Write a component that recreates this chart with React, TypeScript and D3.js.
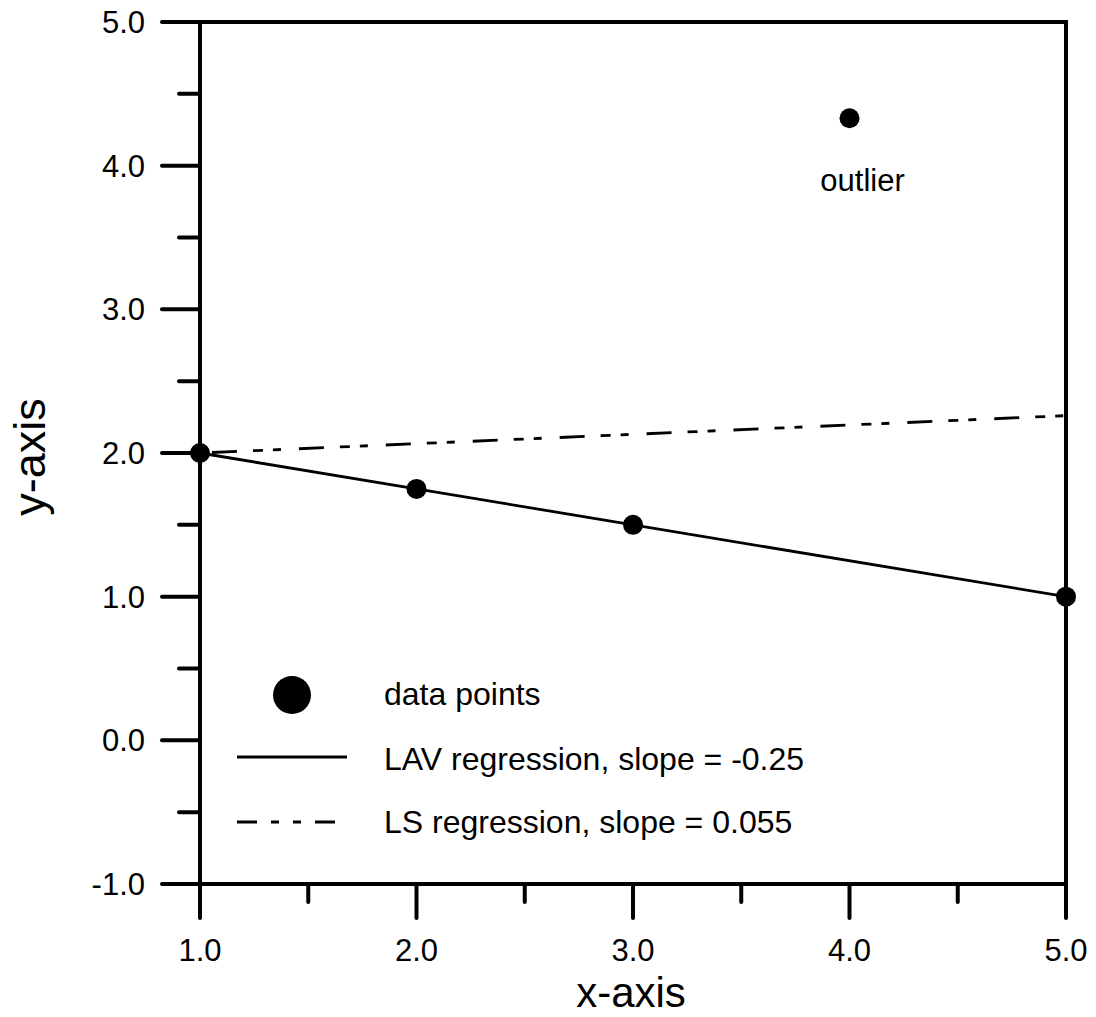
import React from "react";
import * as d3 from "d3";

const pointsX = [1, 2, 3, 4, 5];
const pointsY = [2.0, 1.75, 1.5, 4.33, 1.0];
const lavLineX = [1, 5];
const lavLineY = [2.0, 1.0];
const lsLineX = [1, 5];
const lsLineY = [2.0, 2.26];
const xMajorTicks = [1, 2, 3, 4, 5];
const xMinorTicks = [1.5, 2.5, 3.5, 4.5];
const yMajorTicks = [-1, 0, 1, 2, 3, 4, 5];
const yMinorTicks = [-0.5, 0.5, 1.5, 2.5, 3.5, 4.5];
const legendLabels = ["data points", "LAV regression, slope = -0.25", "LS regression, slope = 0.055"];
const outlierLabel = "outlier";

const W = 1096;
const H = 1017;
const FONT = "'Liberation Sans', Arial, Helvetica, sans-serif";

export default function App() {
  const x = d3.scaleLinear().domain([1, 5]).range([200, 1066]);
  const y = d3.scaleLinear().domain([-1, 5]).range([884, 22]);
  const line = d3
    .line<[number, number]>()
    .x((d) => x(d[0]))
    .y((d) => y(d[1]));
  const lav = line(lavLineX.map((v, i) => [v, lavLineY[i]] as [number, number]));
  const ls = line(lsLineX.map((v, i) => [v, lsLineY[i]] as [number, number]));
  const fmt = (v: number) => v.toFixed(1);
  const axisW = 4;

  return (
    <svg
      width={W}
      height={H}
      style={{ position: "absolute", left: 0, top: 0, background: "#fff" }}
      fontFamily={FONT}
    >
      <rect x={0} y={0} width={W} height={H} fill="#fff" />
      {/* regression lines */}
      <path d={lav ?? ""} stroke="#000" strokeWidth={2.8} fill="none" />
      <path
        d={ls ?? ""}
        stroke="#000"
        strokeWidth={2.8}
        fill="none"
        strokeDasharray="25 16 10 10 8 18"
        strokeDashoffset={-12}
      />
      {/* frame */}
      <line x1={x(1)} x2={x(1)} y1={y(5)} y2={y(-1)} stroke="#000" strokeWidth={axisW} />
      <line x1={x(5)} x2={x(5)} y1={y(5)} y2={y(-1)} stroke="#000" strokeWidth={axisW} />
      <line x1={x(1)} x2={x(5) + 2} y1={y(5)} y2={y(5)} stroke="#000" strokeWidth={axisW} />
      <line x1={x(1)} x2={x(5) + 2} y1={y(-1)} y2={y(-1)} stroke="#000" strokeWidth={axisW} />
      {/* y ticks */}
      {yMajorTicks.map((t) => (
        <g key={"ym" + t}>
          <line x1={x(1) - 38} x2={x(1)} y1={y(t)} y2={y(t)} stroke="#000" strokeWidth={axisW} strokeLinecap="round" />
          <text x={145} y={y(t)} dy="0.36em" textAnchor="end" fontSize={31}>
            {fmt(t)}
          </text>
        </g>
      ))}
      {yMinorTicks.map((t) => (
        <line key={"yn" + t} x1={x(1) - 21} x2={x(1)} y1={y(t)} y2={y(t)} stroke="#000" strokeWidth={axisW} strokeLinecap="round" />
      ))}
      {/* x ticks */}
      {xMajorTicks.map((t) => (
        <g key={"xm" + t}>
          <line x1={x(t)} x2={x(t)} y1={y(-1)} y2={y(-1) + 34} stroke="#000" strokeWidth={axisW} strokeLinecap="round" />
          <text x={x(t)} y={961} textAnchor="middle" fontSize={31}>
            {fmt(t)}
          </text>
        </g>
      ))}
      {xMinorTicks.map((t) => (
        <line key={"xn" + t} x1={x(t)} x2={x(t)} y1={y(-1)} y2={y(-1) + 18} stroke="#000" strokeWidth={axisW} strokeLinecap="round" />
      ))}
      {/* data points */}
      {pointsX.map((v, i) => (
        <circle key={"p" + i} cx={x(v)} cy={y(pointsY[i])} r={10} fill="#000" />
      ))}
      <text x={x(4) + 13} y={191} textAnchor="middle" fontSize={31}>
        {outlierLabel}
      </text>
      {/* legend */}
      <circle cx={292} cy={695} r={19} fill="#000" />
      <text x={384} y={705} fontSize={32}>
        {legendLabels[0]}
      </text>
      <line x1={237} x2={347} y1={757} y2={757} stroke="#000" strokeWidth={2.8} />
      <text x={384} y={770} fontSize={32}>
        {legendLabels[1]}
      </text>
      <line x1={237} x2={347} y1={822} y2={822} stroke="#000" strokeWidth={2.8} strokeDasharray="20 14 8 14 8 14 20" />
      <text x={384} y={833} fontSize={32}>
        {legendLabels[2]}
      </text>
      {/* axis titles */}
      <text x={631} y={1007} textAnchor="middle" fontSize={42}>
        x-axis
      </text>
      <text transform="translate(45,457) rotate(-90)" textAnchor="middle" fontSize={45}>
        y-axis
      </text>
    </svg>
  );
}
